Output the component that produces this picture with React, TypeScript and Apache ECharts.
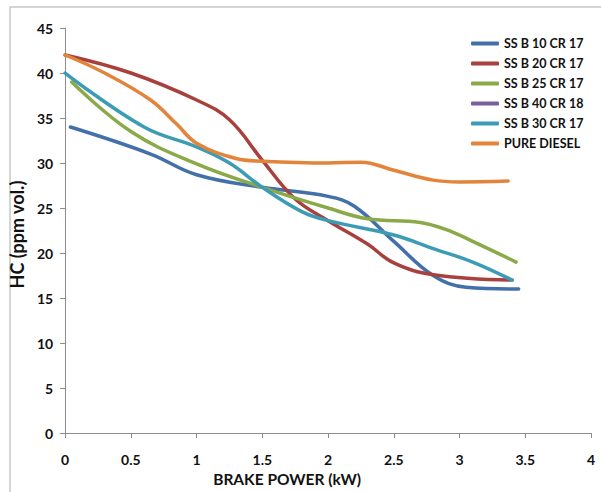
import React, { useEffect, useRef } from "react";
import * as echarts from "echarts";

const seriesNames = ["SS B 10 CR 17", "SS B 20 CR 17", "SS B 25 CR 17", "SS B 40 CR 18", "SS B 30 CR 17", "PURE DIESEL"];
const seriesColors = ["#4470AA", "#A8403D", "#8AA948", "#7A5E9E", "#3D9CB5", "#E3843A"];

const ssb10: number[][] = [[0.04, 34], [0.65, 31], [1.0, 28.7], [1.5, 27.3], [2.0, 26.3], [2.2, 25.2], [2.5, 21.3], [2.8, 17.5], [3.05, 16.2], [3.45, 16]];
const ssb20: number[][] = [[0, 42], [0.5, 40], [1.0, 37], [1.25, 34.8], [1.5, 30.3], [1.75, 26], [2.0, 23.6], [2.3, 21], [2.5, 18.9], [2.8, 17.6], [3.4, 17]];
const ssb25: number[][] = [[0.05, 39], [0.5, 33.5], [1.0, 29.9], [1.5, 27.3], [2.0, 25], [2.3, 23.8], [2.7, 23.4], [2.9, 22.6], [3.1, 21.3], [3.43, 19]];
const ssb40: number[][] = [];
const ssb30: number[][] = [[0, 40], [0.6, 34], [1.0, 31.8], [1.25, 30], [1.5, 27.3], [1.8, 24.6], [2.0, 23.6], [2.5, 22], [2.8, 20.5], [3.1, 19], [3.4, 17]];
const pureDiesel: number[][] = [[0, 42], [0.3, 40], [0.65, 37], [0.85, 34.3], [1.0, 32.2], [1.3, 30.5], [1.5, 30.2], [2.0, 30], [2.25, 30.1], [2.5, 29.2], [2.8, 28.1], [3.0, 27.9], [3.37, 28]];

const allData = [ssb10, ssb20, ssb25, ssb40, ssb30, pureDiesel];

const FONT = "Lato, 'Liberation Sans', sans-serif";

export default function App() {
  const ref = useRef<HTMLDivElement>(null);
  useEffect(() => {
    if (!ref.current) return;
    const chart = echarts.init(ref.current, null, { renderer: "svg" });
    chart.setOption({
      animation: false,
      backgroundColor: "#fff",
      graphic: [
        {
          type: "polyline",
          shape: { points: [[10, 492], [10, 7], [601, 7]] },
          style: { stroke: "#c8c8c8", lineWidth: 1.5, fill: null },
          silent: true,
        },
      ],
      legend: {
        orient: "vertical",
        left: 471,
        top: 37,
        padding: 0,
        itemWidth: 28,
        itemHeight: 4,
        itemGap: 7,
        icon: "roundRect",
        textStyle: { fontFamily: FONT, fontWeight: "bold", fontSize: 12.5, color: "#111" },
        data: seriesNames,
      },
      grid: { left: 65, right: 10, top: 28, bottom: 56, containLabel: false },
      xAxis: {
        type: "value",
        min: 0,
        max: 4,
        interval: 0.5,
        name: "BRAKE POWER (kW)",
        nameLocation: "middle",
        nameGap: 36,
        nameTextStyle: { fontFamily: FONT, fontWeight: "bold", fontSize: 15.5, color: "#111", padding: [0, 82, 0, 0] },
        axisLine: { show: true, lineStyle: { color: "#8c8c8c", width: 1 } },
        axisTick: { show: true, inside: false, length: 5, lineStyle: { color: "#8c8c8c" } },
        axisLabel: { fontFamily: FONT, fontWeight: "bold", fontSize: 14, color: "#111", margin: 19 },
        splitLine: { show: false },
      },
      yAxis: {
        type: "value",
        min: 0,
        max: 45,
        interval: 5,
        name: "HC (ppm vol.)",
        nameLocation: "middle",
        nameGap: 28,
        nameTextStyle: { fontFamily: FONT, fontWeight: "bold", fontSize: 18, color: "#111", padding: [0, 8, 0, 0] },
        axisLine: { show: true, lineStyle: { color: "#8c8c8c", width: 1 } },
        axisTick: { show: true, inside: false, length: 5, lineStyle: { color: "#8c8c8c" } },
        axisLabel: { fontFamily: FONT, fontWeight: "bold", fontSize: 14, color: "#111", margin: 12 },
        splitLine: { show: false },
      },
      series: seriesNames.map((name, i) => ({
        name,
        type: "line",
        data: allData[i],
        smooth: 0.4,
        showSymbol: false,
        symbol: "none",
        lineStyle: { width: 3.5, color: seriesColors[i], cap: "round" },
        itemStyle: { color: seriesColors[i] },
      })),
    });
    return () => chart.dispose();
  }, []);
  return <div ref={ref} style={{ position: "absolute", left: 0, top: 0, width: 601, height: 492 }} />;
}
